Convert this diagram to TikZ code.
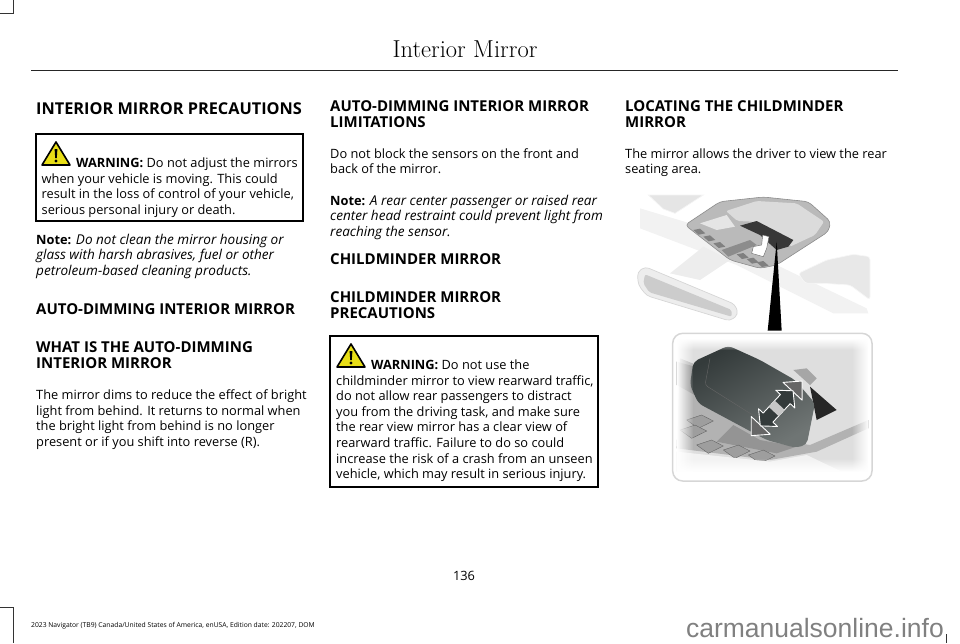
\documentclass[tikz,border=0pt]{standalone}
\usepackage{fontspec}
\usetikzlibrary{fadings}
\newfontfamily\pagefont[Ligatures=NoCommon]{Open Sans}
\newfontfamily\markfont{Liberation Sans}
\definecolor{mirrordark}{HTML}{343B3B}
\definecolor{mirrorpale}{HTML}{6F7574}
\newcommand{\notelead}{{\upshape\bfseries\fontsize{12.8}{15}\selectfont Note:}}
\tikzset{
    every node/.style = {inner sep = 0pt, anchor = base west},
    bodytext/.style = {font = \pagefont\fontsize{12.8}{15}\selectfont},
    notetext/.style = {font = \pagefont\itshape\fontsize{13.55}{15}\selectfont},
    headtext/.style = {font = \pagefont\bfseries\fontsize{15}{16}\selectfont},
    mainhead/.style = {font = \pagefont\bfseries\fontsize{16.3}{17}\selectfont},
    warnbox/.style = {draw, line width = 1.5pt},
    cropline/.style = {draw = black!80, line width = 0.7pt},
    arrowedge/.style = {draw = white, line width = 0.9pt, line join = round},
    warnsign/.pic = {
        \filldraw[fill = yellow!90!black, line width = 1.6pt, line join = round]
            (0,23) -- (14,0) -- (28,23) -- cycle;
        \fill (12.6,7) -- (15.4,7) -- (14.8,16) -- (13.2,16) -- cycle;
        \fill (14,19) circle (1.7);
    }
}
\begin{document}
\begin{tikzpicture}[x = 1pt, y = -1pt]
    \useasboundingbox (0,0) rectangle (960,643);
    % corner marks
    \draw[cropline] (0,13) -- (13,13) -- (13,0);
    \draw[cropline] (0,607) -- (13,607) -- (13,643);
    \draw[cropline] (946,634) -- (946,643);
    % header
    \node[font = \fontsize{24.5}{26}\selectfont\addfontfeature{FakeBold=1.6,LetterSpace=2}, anchor = base] (pagetitle) at (465,57) {Interior Mirror};
    \draw[line width = 1pt, black!85] (31,70) -- (898,70);
    % left column
    \node[mainhead] (precautions) at (36,114) {INTERIOR MIRROR PRECAUTIONS};
    \draw[warnbox] (36,134) rectangle (303,221);
    \path (42,142) pic {warnsign};
    \node[bodytext] (warnone) at (76,167) {\textbf{WARNING:} Do not adjust the mirrors};
    \foreach \ypos/\linetext in {183/{when your vehicle is moving. This could},
        198.5/{result in the loss of control of your vehicle,},
        214/{serious personal injury or death.}}
        \node[bodytext] (warnone\ypos) at (41.5,\ypos) {\linetext};
    \node[notetext] (noteone) at (36,244) {\notelead{} Do not clean the mirror housing or};
    \foreach \ypos/\linetext in {259.5/{glass with harsh abrasives, fuel or other},
        275/{petroleum-based cleaning products.}}
        \node[notetext] (noteone\ypos) at (36,\ypos) {\linetext};
    \node[headtext] (autodim) at (36,314) {AUTO-DIMMING INTERIOR MIRROR};
    \node[headtext] (whatis) at (36,352) {WHAT IS THE AUTO-DIMMING};
    \node[headtext] (whatistwo) at (36,368) {INTERIOR MIRROR};
    \foreach \ypos/\linetext in {399/{The mirror dims to reduce the effect of bright},
        415/{light from behind. It returns to normal when},
        430/{the bright light from behind is no longer},
        446/{present or if you shift into reverse (R).}}
        \node[bodytext] (dims\ypos) at (36,\ypos) {\linetext};
    % middle column
    \node[headtext] (limits) at (330,111) {AUTO-DIMMING INTERIOR MIRROR};
    \node[headtext] (limitstwo) at (330,127) {LIMITATIONS};
    \foreach \ypos/\linetext in {158/{Do not block the sensors on the front and},
        173/{back of the mirror.}}
        \node[bodytext] (block\ypos) at (330,\ypos) {\linetext};
    \node[notetext] (notetwo) at (330,205) {\notelead{} A rear center passenger or raised rear};
    \foreach \ypos/\linetext in {220/{center head restraint could prevent light from},
        236/{reaching the sensor.}}
        \node[notetext] (notetwo\ypos) at (330,\ypos) {\linetext};
    \node[headtext] (childmirror) at (330,264) {CHILDMINDER MIRROR};
    \node[headtext] (childprec) at (330,302) {CHILDMINDER MIRROR};
    \node[headtext] (childprectwo) at (330,318) {PRECAUTIONS};
    \draw[warnbox] (330,336) rectangle (598,487);
    \path (337,344) pic {warnsign};
    \node[bodytext] (warntwo) at (371,369) {\textbf{WARNING:} Do not use the};
    \foreach \ypos/\linetext in {385/{childminder mirror to view rearward traffic,},
        400/{do not allow rear passengers to distract},
        416/{you from the driving task, and make sure},
        431/{the rear view mirror has a clear view of},
        447/{rearward traffic. Failure to do so could},
        463/{increase the risk of a crash from an unseen},
        478/{vehicle, which may result in serious injury.}}
        \node[bodytext] (warntwo\ypos) at (336,\ypos) {\linetext};
    % right column
    \node[headtext] (locating) at (625,111) {LOCATING THE CHILDMINDER};
    \node[headtext] (locatingtwo) at (625,127) {MIRROR};
    \foreach \ypos/\linetext in {158/{The mirror allows the driver to view the rear},
        173/{seating area.}}
        \node[bodytext] (allows\ypos) at (625,\ypos) {\linetext};
    % upper view of the console
    \begin{scope}[shift = {(620,185)}, scale = 1/3]
        \fill[black!5] (60,70) -- (210,115) -- (740,370) -- (745,385) -- (640,385) -- (350,240) -- (60,130) -- cycle;
        \fill[black!7] (150,265) -- (250,185) -- (330,225) -- (240,285) -- cycle;
        \filldraw[fill = black!10, draw = black!4, line width = 0.7pt] (85,30) -- (250,30) -- (165,85) -- (130,72) -- cycle;
        \filldraw[fill = black!9, draw = black!3, line width = 0.7pt, rounded corners = 3pt]
            (535,265) -- (620,225) -- (700,208) -- (750,215) -- (750,345) -- (690,300) -- (610,295) -- (555,295) -- cycle;
        \filldraw[fill = black!7, draw = black!16, line width = 0.7pt, rounded corners = 4pt]
            (52,262) -- (75,245) -- (345,358) -- (355,388) -- (330,408) -- (80,332) -- (55,300) -- cycle;
        \fill[black!20, rounded corners = 2pt] (75,268) -- (335,375) -- (335,395) -- (88,322) -- (70,295) -- cycle;
        \filldraw[fill = black!27, draw = black!45, line width = 0.6pt, rounded corners = 4pt]
            (195,120) -- (300,50) -- (430,36) -- (565,50) -- (632,110) -- (625,140) -- (470,240) -- (420,250) -- (330,225) -- cycle;
        \fill[black!14, rounded corners = 2pt] (318,78) -- (410,48) -- (530,55) -- (612,110) -- (585,150) -- (510,185) -- (400,110) -- (352,108) -- cycle;
        \fill[black!10] (240,115) -- (320,90) -- (345,125) -- (290,135) -- cycle;
        \fill[black!78] (360,122) -- (410,108) -- (520,165) -- (505,185) -- (470,195) -- (420,150) -- cycle;
        \foreach \xpos/\ypos in {220/135, 250/155, 280/175, 350/208, 380/222, 410/232}
            \fill[black!50] (\xpos,\ypos) -- ++(20,-4) -- ++(16,14) -- ++(-20,4) -- cycle;
        \fill[black!45] (305,195) -- (390,165) -- (410,180) -- (325,215) -- cycle;
        \filldraw[fill = white, draw = black!60, line width = 0.4pt]
            (400,185) -- (425,180) -- (428,150) -- (447,155) -- (440,190) -- (430,215) -- (395,205) -- cycle;
        \fill (470,170) -- (485,437) -- (443,437) -- cycle;
    \end{scope}
    % lower view of the mirror
    \begin{scope}[shift = {(660,325)}, scale = 1/3]
        \fill[black!13] (50,40) rectangle (625,440);
        \fill[black!30] (60,100) -- (110,120) -- (330,340) -- (450,360) -- (625,285) -- (625,310) -- (470,380) -- (330,405) -- (50,370) -- cycle;
        \fill[black!42] (50,110) -- (105,125) -- (140,230) -- (50,180) -- cycle;
        \fill[black!42] (220,300) -- (300,345) -- (410,365) -- (350,385) -- (170,350) -- cycle;
        \foreach \xpos/\ypos in {80/285, 60/315, 110/360, 190/375, 265/390}
            \filldraw[fill = black!38, draw = black!65, line width = 0.3pt] (\xpos,\ypos) -- ++(45,-15) -- ++(35,18) -- ++(-45,22) -- cycle;
        \fill[black!5] (50,380) -- (330,410) -- (440,390) -- (545,440) -- (50,440) -- cycle;
        \fill[black!35] (400,135) -- (440,130) -- (470,160) -- (450,180) -- cycle;
        \fill[black!85] (450,185) -- (530,255) -- (470,285) -- cycle;
        \shade[top color = mirrordark, bottom color = mirrorpale, rounded corners = 5pt, shading angle = 30]
            (100,110) -- (205,62) -- (300,105) -- (405,165) -- (465,235) -- (440,360) -- (405,368) -- (320,345) -- (115,235) -- (90,180) -- cycle;
        \draw[black!60, line width = 0.4pt, rounded corners = 3pt] (150,100) -- (135,180) -- (270,265) -- (345,305);
        % soft edges of the view
        \fill[white, path fading = east] (50,40) rectangle (100,440);
        \fill[white, path fading = west] (575,40) rectangle (625,440);
        \fill[white, path fading = south] (50,40) rectangle (625,75);
        \fill[white, path fading = north] (50,400) rectangle (625,440);
        \begin{scope}[shift = {(350,250)}, rotate = 47]
            % arrow in its own frame
            \filldraw[fill = black!60, arrowedge] (70,-14) -- (70,-39) -- (112,0) -- (70,39) -- (70,14) -- cycle;
            \filldraw[fill = black!60, arrowedge] (-70,-14) -- (-70,-39) -- (-112,0) -- (-70,39) -- (-70,14) -- cycle;
            \filldraw[fill = mirrordark, arrowedge] (-38,-20) -- (-38,-39) -- (-72,0) -- (-38,39) -- (-38,20) -- (38,20) -- (38,39) -- (72,0) -- (38,-39) -- (38,-20) -- cycle;
            \fill[black!22] (-13,-20) rectangle (13,20);
        \end{scope}
        \draw[black!16, line width = 1.5pt, rounded corners = 10pt] (38,25) rectangle (636,468);
    \end{scope}
    % footer
    \node[bodytext, anchor = base] (pagenum) at (464,580) {136};
    \node[font = \pagefont\fontsize{6.75}{8}\selectfont] (edition) at (31,627) {2023 Navigator (TB9) Canada/United States of America, enUSA, Edition date: 202207, DOM};
    \node[font = \markfont\fontsize{26.5}{28}\selectfont, text = black!50, anchor = base east] (website) at (944,637) {carmanualsonline.info};
\end{tikzpicture}
\end{document}
